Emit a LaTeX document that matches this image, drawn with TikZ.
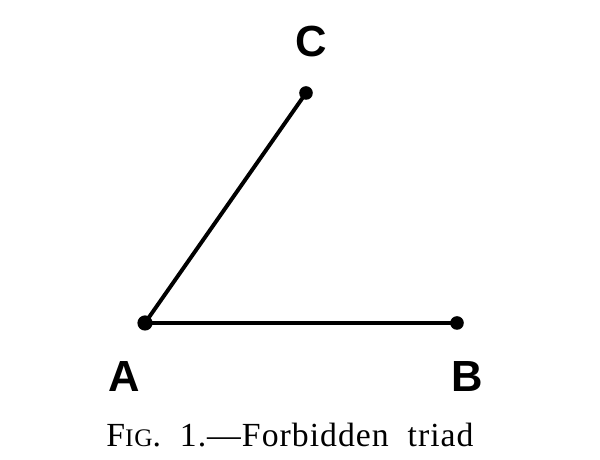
\documentclass[tikz,border=0pt]{standalone}
\usepackage{fontspec}
\newfontfamily\labelfont{Liberation Sans}
\newfontfamily\capfont[Ligatures=TeX,LetterSpace=3]{Liberation Serif}
\usepackage{tikz}
\usetikzlibrary{shapes,arrows}

\begin{document}
\begin{tikzpicture}[scale = 1,
  dot/.style = {circle, fill=black, inner sep=0pt, minimum size=0.34cm},
  vlabel/.style = {font=\labelfont\bfseries\fontsize{31}{31}\selectfont}]
\useasboundingbox (0,0) rectangle (15,11.5);
\node[dot, minimum size=0.38cm] (A) at (3.625,3.425) {};
\node[dot] (B) at (11.425,3.425) {};
\node[dot] (C) at (7.65,9.175) {};
\draw[line width=2.8pt, black] (A.center) -- (C.center);
\draw[line width=2.8pt, black] (A.center) -- (B.center);
\node[vlabel] (labC) at (7.775,10.45) {C};
\node[vlabel] (labA) at (3.1,2.075) {A};
\node[vlabel] (labB) at (11.675,2.075) {B};
\node[font=\capfont\fontsize{24}{24}\selectfont] (cap) at (7.25,0.62)
  {F{\fontsize{18}{18}\selectfont IG}.\ \ 1.---Forbidden\ \ triad};
\end{tikzpicture}
\end{document}
